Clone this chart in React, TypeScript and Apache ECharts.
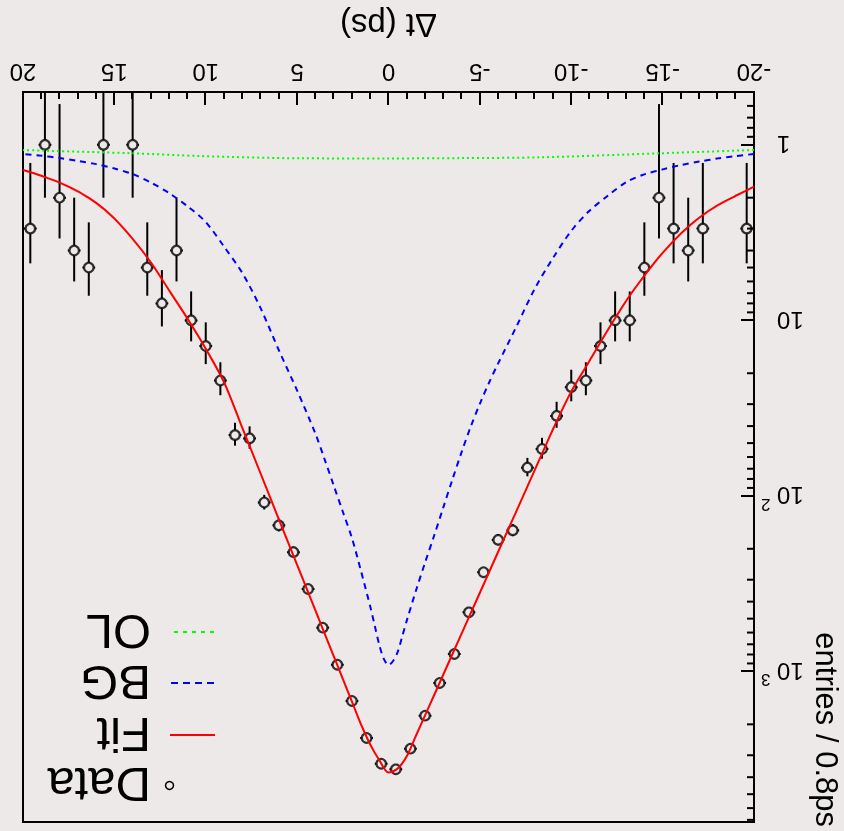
import React, { useEffect, useRef } from "react";
import * as echarts from "echarts";

// ---- data ----
const binCenters = [
  -19.6, -18.8, -18.0, -17.2, -16.4, -15.6, -14.8, -14.0, -13.2, -12.4,
  -11.6, -10.8, -10.0, -9.2, -8.4, -7.6, -6.8, -6.0, -5.2, -4.4,
  -3.6, -2.8, -2.0, -1.2, -0.4, 0.4, 1.2, 2.0, 2.8, 3.6,
  4.4, 5.2, 6.0, 6.8, 7.6, 8.4, 9.2, 10.0, 10.8, 11.6,
  12.4, 13.2, 14.0, 14.8, 15.6, 16.4, 17.2, 18.0, 18.8, 19.6,
];
const counts = [
  3, 0, 0, 3, 4, 3, 2, 5, 10, 10,
  14, 22, 24, 35, 54, 69, 157, 178, 272, 460,
  795, 1163, 1786, 2753, 3607, 3353, 2393, 1473, 915, 563,
  339, 209, 147, 109, 47, 45, 22, 14, 10, 4,
  8, 5, 1, 0, 1, 5, 4, 2, 1, 3,
];

const fitT = [-20, -19, -18, -17, -16, -15, -14, -13, -12, -11, -10, -9, -8, -7, -6, -5, -4, -3, -2.5, -2, -1.5, -1, -0.5, 0, 0.5, 1, 1.5, 2, 2.5, 3, 4, 5, 6, 7, 8, 9, 10, 11, 12, 13, 14, 15, 16, 17, 18, 19, 20];
const fitV = [1.73, 1.95, 2.21, 2.6, 3.2, 4.12, 5.56, 7.76, 11.35, 17.0, 25.4, 41.7, 71.3, 122, 208, 356, 608, 1040, 1361, 1778, 2323, 3040, 3573, 3758, 3200, 2606, 2005, 1486, 1102, 817, 449, 247, 136, 74.5, 40.9, 22.5, 14.5, 9.77, 6.76, 4.68, 3.43, 2.63, 2.14, 1.84, 1.64, 1.5, 1.39];

const bgT = [-20, -19, -18, -17, -16, -15, -14, -13, -12, -11, -10, -9, -8, -7, -6, -5.5, -5, -4.5, -4, -3.5, -3, -2.5, -2, -1.5, -1, -0.75, -0.5, -0.25, 0, 0.25, 0.5, 0.75, 1, 1.5, 2, 2.5, 3, 3.5, 4, 5, 6, 7, 8, 9, 10, 11, 12, 13, 14, 15, 16, 17, 18, 19, 20];
const bgV = [1.127, 1.159, 1.197, 1.245, 1.303, 1.38, 1.472, 1.633, 1.95, 2.371, 3.09, 4.416, 6.607, 10.84, 17.58, 22.65, 29.85, 40.27, 56.23, 80.35, 116.1, 167.9, 239.9, 346.7, 512.9, 631, 776.2, 871, 918.3, 851.1, 707.9, 549.5, 426.6, 269.2, 173.8, 123, 87.1, 61.66, 44.16, 25.12, 14.79, 8.51, 5.37, 3.8, 2.754, 2.239, 1.884, 1.641, 1.466, 1.365, 1.288, 1.236, 1.189, 1.153, 1.127];

const olT = [-20, -14.86, -8.29, -4, 0, 4.8, 10.3, 14, 18.8, 20];
const olV = [1.07, 1.117, 1.178, 1.19, 1.195, 1.193, 1.158, 1.117, 1.08, 1.07];

const yTickValues = [1, 10, 100, 1000];
const yTickBase = ["1", "10", "10", "10"];
const yTickExp = ["", "", "2", "3"];

const legendLabels = ["Data", "Fit", "BG", "OL"];
const xTitle = "Δt (ps)";
const yTitle = "entries / 0.8ps";

// ---- style constants ----
const BG = "#ece9e8";
const FONT = '"Liberation Sans", Arial, Helvetica, sans-serif';
const X_MIN = -20;
const X_MAX = 20;
const Y_MIN = 0.5;
const Y_MAX = 7200;
const X_ERR = 0.35;
const GAP = 5;

export default function App() {
  const ref = useRef<HTMLDivElement>(null);

  useEffect(() => {
    document.body.style.margin = "0";
    const chart = echarts.init(ref.current!, null, { renderer: "svg" });

    const pts = binCenters
      .map((t, i) => [t, counts[i]])
      .filter((d) => d[1] > 0);

    const yMinor: number[] = [];
    [0.1, 1, 10, 100, 1000].forEach((d) => {
      for (let k = 2; k <= 9; k++) {
        const v = d * k;
        if (v > Y_MIN && v < Y_MAX) yMinor.push(v);
      }
    });

    const blk = "#000";

    const option: any = {
      animation: false,
      backgroundColor: BG,
      grid: {
        left: 90,
        top: 9,
        width: 731,
        height: 730,
        show: true,
        borderColor: blk,
        borderWidth: 2,
        backgroundColor: "transparent",
      },
      xAxis: {
        type: "value",
        min: X_MIN,
        max: X_MAX,
        interval: 5,
        axisLine: { onZero: false, lineStyle: { color: blk, width: 2 } },
        axisTick: { inside: true, length: 13, lineStyle: { color: blk, width: 2 } },
        minorTick: { show: true, splitNumber: 5, length: 7, lineStyle: { color: blk, width: 2 } },
        splitLine: { show: false },
        minorSplitLine: { show: false },
        axisLabel: { color: blk, fontSize: 24, fontFamily: FONT, margin: 7 },
        name: xTitle,
        nameLocation: "middle",
        nameGap: 50,
        nameTextStyle: { color: blk, fontSize: 33, fontFamily: FONT },
      },
      yAxis: {
        type: "log",
        logBase: 10,
        min: Y_MIN,
        max: Y_MAX,
        axisLine: { onZero: false, lineStyle: { color: blk, width: 2 } },
        axisTick: { inside: true, length: 13, lineStyle: { color: blk, width: 2 } },
        splitLine: { show: false },
        axisLabel: {
          showMinLabel: false,
          showMaxLabel: false,
          margin: 7,
          formatter: (v: number) => {
            const i = yTickValues.findIndex((tv) => Math.abs(Math.log10(v) - Math.log10(tv)) < 1e-6);
            if (i < 0) return "";
            return `{n|${yTickBase[i]}}{e|${yTickExp[i] || " "}}`;
          },
          rich: {
            n: { fontSize: 24, fontFamily: FONT, color: blk, lineHeight: 34 },
            e: { fontSize: 17, fontFamily: FONT, color: blk, lineHeight: 12, verticalAlign: "top", width: 16, align: "right" },
          },
        },
      },
      series: [
        {
          type: "custom",
          name: "yminor",
          coordinateSystem: "cartesian2d",
          data: yMinor.map((v) => [X_MIN, v]),
          encode: { x: 0, y: 1 },
          silent: true,
          z: 5,
          renderItem: (params: any, api: any) => {
            const p = api.coord([X_MIN, api.value(1)]);
            return {
              type: "line",
              shape: { x1: p[0], y1: p[1], x2: p[0] + 7, y2: p[1] },
              style: { stroke: blk, lineWidth: 2 },
            };
          },
        },
        {
          type: "custom",
          name: "errors",
          coordinateSystem: "cartesian2d",
          data: pts,
          encode: { x: 0, y: 1 },
          z: 2,
          renderItem: (params: any, api: any) => {
            const t = api.value(0);
            const n = api.value(1);
            const sd = Math.sqrt(n);
            const c = api.coord([t, n]);
            const top = api.coord([t, n + sd]);
            const bot = api.coord([t, Math.max(n - sd, Y_MIN)]);
            const l = api.coord([t - X_ERR, n]);
            const r = api.coord([t + X_ERR, n]);
            const st = { stroke: blk, lineWidth: 2 };
            const ch: any[] = [];
            if (c[1] - top[1] > GAP) ch.push({ type: "line", shape: { x1: c[0], y1: top[1], x2: c[0], y2: c[1] - GAP }, style: st });
            if (bot[1] - c[1] > GAP) ch.push({ type: "line", shape: { x1: c[0], y1: c[1] + GAP, x2: c[0], y2: bot[1] }, style: st });
            ch.push({ type: "line", shape: { x1: l[0], y1: c[1], x2: c[0] - GAP, y2: c[1] }, style: st });
            ch.push({ type: "line", shape: { x1: c[0] + GAP, y1: c[1], x2: r[0], y2: c[1] }, style: st });
            return { type: "group", children: ch };
          },
        },
        {
          type: "scatter",
          name: legendLabels[0],
          data: pts,
          symbol: "circle",
          symbolSize: 9.5,
          z: 3,
          itemStyle: { color: "rgba(0,0,0,0)", borderColor: blk, borderWidth: 2.2 },
        },
        {
          type: "line",
          name: legendLabels[3],
          data: olT.map((t, i) => [t, olV[i]]),
          smooth: 0.3,
          showSymbol: false,
          z: 4,
          lineStyle: { color: "#00ff00", width: 2, type: [2, 3] },
        },
        {
          type: "line",
          name: legendLabels[2],
          data: bgT.map((t, i) => [t, bgV[i]]),
          smooth: 0.3,
          showSymbol: false,
          z: 4,
          lineStyle: { color: "#0000ff", width: 2, type: [6, 5] },
        },
        {
          type: "line",
          name: legendLabels[1],
          data: fitT.map((t, i) => [t, fitV[i]]),
          smooth: 0.3,
          showSymbol: false,
          z: 4,
          lineStyle: { color: "#ff0000", width: 2 },
        },
      ],
      graphic: [
        {
          type: "text",
          x: 17,
          y: 4,
          rotation: Math.PI / 2,
          style: { text: yTitle, fontSize: 31, fontFamily: FONT, fill: blk, align: "right", verticalAlign: "middle" },
        },
        { type: "circle", shape: { cx: 674.5, cy: 45.5, r: 4 }, style: { fill: "none", stroke: blk, lineWidth: 1.5 } },
        { type: "line", shape: { x1: 629, y1: 96, x2: 674, y2: 96 }, style: { stroke: "#ff0000", lineWidth: 2 } },
        { type: "line", shape: { x1: 630, y1: 148, x2: 675, y2: 148 }, style: { stroke: "#0000ff", lineWidth: 2, lineDash: [7, 5] } },
        { type: "line", shape: { x1: 630, y1: 199, x2: 675, y2: 199 }, style: { stroke: "#00ff00", lineWidth: 2, lineDash: [4, 5] } },
        ...legendLabels.map((s, i) => ({
          type: "text",
          x: 693,
          y: [45.5, 96, 148, 199][i],
          style: { text: s, fontSize: 49, fontFamily: FONT, fill: blk, align: "left", verticalAlign: "middle" },
        })),
      ],
    };

    chart.setOption(option);
    return () => chart.dispose();
  }, []);

  return (
    <div
      ref={ref}
      style={{
        position: "fixed",
        left: 0,
        top: 0,
        width: 844,
        height: 831,
        transform: "rotate(180deg)",
        background: BG,
      }}
    />
  );
}
